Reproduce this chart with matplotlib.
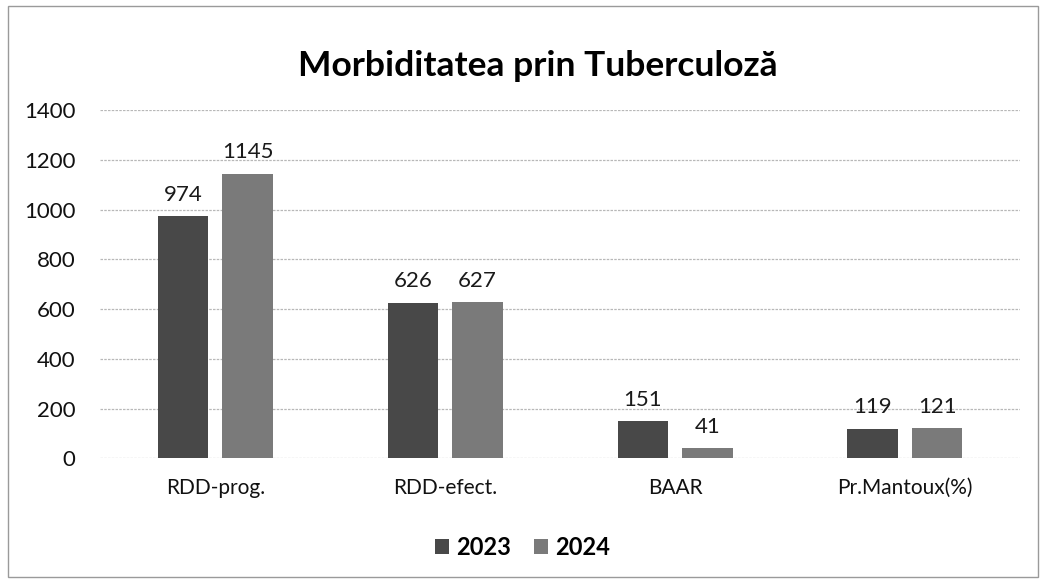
import numpy as np
import matplotlib.pyplot as plt
from matplotlib.patches import Rectangle

plt.rcParams['font.family'] = ['Lato', 'DejaVu Sans']

categories = ["RDD-prog.", "RDD-efect.", "BAAR", "Pr.Mantoux(%)"]
years = ["2023", "2024"]
values_2023 = [974, 626, 151, 119]
values_2024 = [1145, 627, 41, 121]
yticks = [0, 200, 400, 600, 800, 1000, 1200, 1400]

colors = ["#484848", "#7a7a7a"]

fig = plt.figure(figsize=(10.45, 5.86), dpi=100)
ax = fig.add_axes([0.096, 0.218, 0.88, 0.594])

x = np.arange(len(categories))
w = 0.22
gap = 0.03
b1 = ax.bar(x - w / 2 - gap, values_2023, w, color=colors[0], label=years[0], zorder=3)
b2 = ax.bar(x + w / 2 + gap, values_2024, w, color=colors[1], label=years[1], zorder=3)

for bars, vals in [(b1, values_2023), (b2, values_2024)]:
    for r, v in zip(bars, vals):
        ax.text(r.get_x() + r.get_width() / 2, v + 45, str(v),
                ha="center", va="bottom", fontsize=16, color="#1a1a1a")

ax.set_xlim(-0.5, len(categories) - 0.5)
ax.set_ylim(0, 1400)
ax.set_yticks(yticks)
ax.set_yticklabels([str(t) for t in yticks], fontsize=16, color="#111111")
ax.set_xticks(x)
ax.set_xticklabels(categories, fontsize=15, color="#111111")
ax.tick_params(axis="y", length=0, pad=18)
ax.tick_params(axis="x", length=0, pad=14)
ax.grid(axis="y", color="#b8b8b8", linewidth=0.9, linestyle=(0, (2, 1)), zorder=0)
for s in ax.spines.values():
    s.set_visible(False)

fig.suptitle("Morbiditatea prin Tuberculoză", fontsize=25.5, fontweight="bold",
             y=0.915, x=0.515)

leg = fig.legend(loc="lower center", bbox_to_anchor=(0.5, 0.01), ncol=2, frameon=False,
                 prop={"size": 17, "weight": "bold"}, handlelength=0.6, handleheight=0.6,
                 handletextpad=0.3, columnspacing=1.0)

# outer chart frame
fig.patches.append(Rectangle((0.008, 0.015), 0.985, 0.975, transform=fig.transFigure,
                             fill=False, edgecolor="#9a9a9a", linewidth=1.0))

plt.savefig("out.png", dpi=100)
